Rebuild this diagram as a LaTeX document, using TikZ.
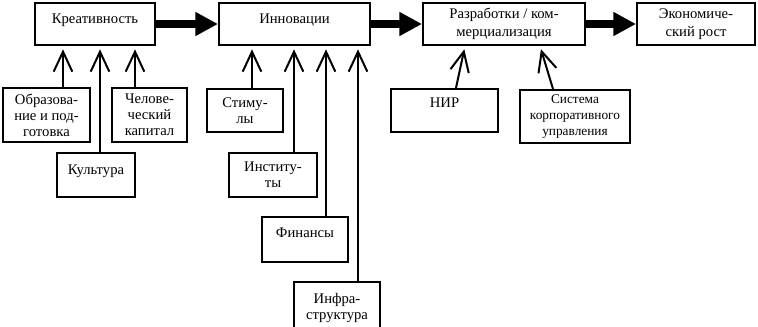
\documentclass[tikz,border=0pt]{standalone}
\usepackage{fontspec}
\setmainfont{Liberation Serif}
\usetikzlibrary{arrows.meta,calc}

\begin{document}
\begin{tikzpicture}[x=0.75pt,y=-0.75pt,box/.style={draw,line width=1.5pt,inner sep=0pt,align=center,font=\fontsize{11}{12}\selectfont},top/.style={box,minimum height=31.5pt,font=\fontsize{11}{13.5}\selectfont},lifted/.style={text height=8pt,text depth=#1},flow/.style={line width=6pt,-{Triangle[length=17pt,width=17pt]}},feed/.style={line width=1.5pt,-{Straight Barb[length=15pt,width=14pt]},shorten >=2.5pt}]
\clip (0,0) rectangle (758,326);
\node[top,lifted=8.3pt,minimum width=90pt] (krea) at (95,24) {Креативность};
\node[top,lifted=8.3pt,minimum width=113.25pt] (inno) at (294.5,24) {Инновации};
\node[top,minimum width=121.5pt] (razr) at (504,24) {Разработки / ком-\\мерциализация};
\node[top,minimum width=88.5pt] (econ) at (696,24) {Экономиче-\\ский рост};
\node[box,minimum width=65.25pt,minimum height=40.5pt] (obraz) at (46.5,115) {Образова-\\ние и под-\\готовка};
\node[box,minimum width=56.25pt,minimum height=40.5pt] (chel) at (149.5,115) {Челове-\\ческий\\капитал};
\node[box,lifted=8.3pt,minimum width=58.5pt,minimum height=33pt] (kult) at (96,175) {Культура};
\node[box,minimum width=57pt,minimum height=32.25pt] (stim) at (245,110.5) {Стиму-\\лы};
\node[box,minimum width=66pt,minimum height=33pt] (inst) at (273,175) {Институ-\\ты};
\node[box,lifted=10.6pt,minimum width=64.5pt,minimum height=33.75pt] (fin) at (305,239.5) {Финансы};
\node[box,minimum width=64.5pt,minimum height=39pt] (infr) at (337,308) {Инфра-\\структура};
\node[box,lifted=12pt,minimum width=80.25pt,minimum height=32.25pt] (nir) at (444.5,110.5) {НИР};
\node[box,font=\fontsize{10}{12.3}\selectfont,minimum width=82.5pt,minimum height=39.75pt] (sist) at (575,116.5) {Система\\корпоративного\\управления};
\draw[flow] (krea) -- (inno);
\draw[flow] (inno) -- (razr);
\draw[flow] (razr) -- (econ);
\draw[feed] ($(obraz.north)+(16.5,0)$) -- ($(krea.south)+(-32,0)$);
\draw[feed] ($(kult.north)+(4,0)$) -- ($(krea.south)+(5,0)$);
\draw[feed] ($(chel.north)+(-14.5,0)$) -- ($(krea.south)+(40,0)$);
\draw[feed] ($(stim.north)+(7,0)$) -- ($(inno.south)+(-42.5,0)$);
\draw[feed] ($(inst.north)+(21,0)$) -- ($(inno.south)+(-0.5,0)$);
\draw[feed] ($(fin.north)+(21,0)$) -- ($(inno.south)+(31.5,0)$);
\draw[feed] ($(infr.north)+(21,0)$) -- ($(inno.south)+(63.5,0)$);
\draw[feed] ($(nir.north)+(11.5,0)$) -- ($(razr.south)+(-39,0)$);
\draw[feed] ($(sist.north)+(-22,0)$) -- ($(razr.south)+(36,0)$);
\end{tikzpicture}
\end{document}
